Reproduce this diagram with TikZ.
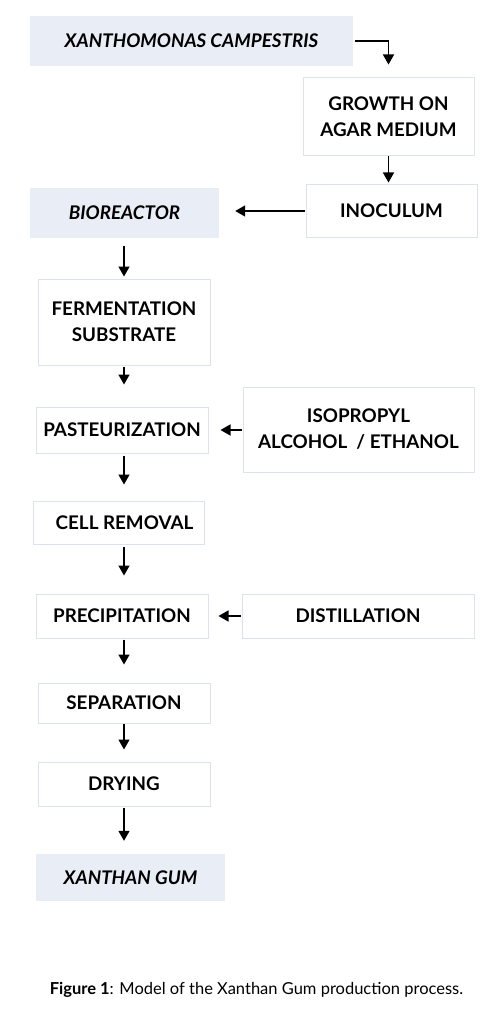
\documentclass[tikz,border=0pt]{standalone}
\usepackage{fontspec}
\setmainfont{Lato}
\usetikzlibrary{arrows.meta}
\definecolor{boxfill}{RGB}{233,237,245}
\definecolor{boxline}{RGB}{220,226,238}
\tikzset{
  stepbox/.style={draw=boxline, line width=1pt, inner sep=0pt, align=center,
    font=\fontsize{18.8}{26}\selectfont\bfseries},
  endbox/.style={fill=boxfill, inner sep=0pt, align=center,
    font=\fontsize{18.8}{26}\selectfont\bfseries\itshape},
  arr/.style={-{Triangle[width=11pt,length=10pt]}, line width=1.5pt},
}
\begin{document}
\begin{tikzpicture}[x=1pt,y=-1pt]
\useasboundingbox[fill=white] (0,0) rectangle (502,1024);
% start and end products
\node[endbox, minimum width=323pt, minimum height=50pt] (xan) at (191.5,41) {XANTHOMONAS CAMPESTRIS};
\node[endbox, minimum width=189pt, minimum height=50pt] (bio) at (124.5,213) {BIOREACTOR};
\node[endbox, minimum width=189pt, minimum height=47pt] (gum) at (130.5,877.5) {XANTHAN GUM};
% process steps
\node[stepbox, minimum width=171pt, minimum height=78pt] (grow) at (388.5,117) {GROWTH ON\\AGAR MEDIUM};
\node[stepbox, minimum width=171pt, minimum height=52pt] (inoc) at (391.5,211) {INOCULUM};
\node[stepbox, minimum width=172pt, minimum height=86pt] (ferm) at (124,322) {FERMENTATION\\SUBSTRATE};
\node[stepbox, minimum width=172pt, minimum height=46pt] (past) at (122,430) {PASTEURIZATION};
\node[stepbox, minimum width=231pt, minimum height=85pt] (iso) at (358.5,429.5) {ISOPROPYL\\ALCOHOL \ / ETHANOL};
\node[stepbox, minimum width=171pt, minimum height=43pt] (cell) at (118.5,522.5) {\hspace{12pt}CELL REMOVAL};
\node[stepbox, minimum width=172pt, minimum height=44pt] (prec) at (122,616) {PRECIPITATION};
\node[stepbox, minimum width=232pt, minimum height=44pt] (dist) at (358,616) {DISTILLATION};
\node[stepbox, minimum width=172pt, minimum height=40pt] (sep) at (124,703) {SEPARATION};
\node[stepbox, minimum width=172pt, minimum height=44pt] (dry) at (124,784) {DRYING};
% connectors
\draw[arr, shorten <=2pt, shorten >=13pt] (xan.east) -| (grow.north);
\draw[arr, shorten >=2pt] (grow.south) -- (grow.south |- inoc.north);
\draw[arr, shorten <=1pt, shorten >=16pt] (inoc.west) -- (inoc.west -| bio.east);
\draw[arr, shorten <=8pt, shorten >=2pt] (bio.south -| ferm.north) -- (ferm.north);
\draw[arr, shorten <=1pt, shorten >=22pt] (ferm.south) -- (ferm.south |- past.north);
\draw[arr, shorten <=1pt, shorten >=12pt] (iso.west |- past.east) -- (past.east);
\draw[arr, shorten <=2pt, shorten >=16pt] (past.south -| ferm.south) -- (ferm.south |- cell.north);
\draw[arr, shorten <=2pt, shorten >=18pt] (cell.south -| ferm.south) -- (ferm.south |- prec.north);
\draw[arr, shorten <=1pt, shorten >=10pt] (dist.west) -- (dist.west -| prec.east);
\draw[arr, shorten <=1pt, shorten >=18pt] (prec.south -| ferm.south) -- (ferm.south |- sep.north);
\draw[arr, shorten >=12pt] (sep.south) -- (sep.south |- dry.north);
\draw[arr, shorten <=1pt, shorten >=13pt] (dry.south) -- (dry.south |- gum.north);
% caption
\node[font=\fontsize{16.5}{20}\selectfont] (cap) at (256.5,990) {\textbf{Figure 1}: Model of the Xanthan Gum production process.};
\end{tikzpicture}
\end{document}
